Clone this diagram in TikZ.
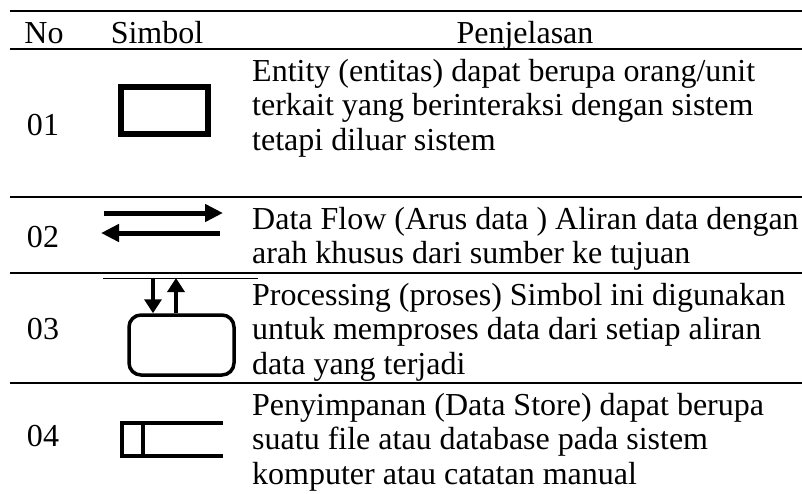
\documentclass[tikz,border=0pt]{standalone}
\usepackage{fontspec}
\setmainfont{Liberation Serif}
\usetikzlibrary{arrows.meta,positioning}

\begin{document}
\begin{tikzpicture}[x=1pt,y=-1pt,
    rule/.style={line width=2pt},
    txt/.style={inner sep=0pt, font=\fontsize{32}{34.5}\selectfont},
    desc/.style={txt, anchor=base west, align=left},
    flow/.style={line width=5pt, -{Triangle[length=18pt,width=17pt]}},
    vflow/.style={line width=4pt, -{Triangle[length=14pt,width=17pt]}}]
    \useasboundingbox (0,0) rectangle (802,493);
    % rules of the table
    \draw[rule] (10,11) -- (802,11);
    \draw[rule] (10,49) -- (802,49);
    \draw[rule] (10,197) -- (802,197);
    \draw[rule] (10,273) -- (802,273);
    \draw[rule] (10,383) -- (802,383);
    % header
    \node(hno) [txt, anchor=base] at (44,43) {No};
    \node(hsim) [txt, anchor=base] at (157,43) {Simbol};
    \node(hpen) [txt, anchor=base] at (525,43) {Penjelasan};
    % numbers
    \node(n1) [txt, anchor=base] at (43,135) {01};
    \node(n2) [txt, anchor=base] at (43,247) {02};
    \node(n3) [txt, anchor=base] at (43,339) {03};
    \node(n4) [txt, anchor=base] at (43,446) {04};
    % explanations (base = last line)
    \node(d1) [desc] at (252,150) {Entity (entitas) dapat berupa orang/unit\\terkait yang berinteraksi dengan sistem\\tetapi diluar sistem};
    \node(d2) [desc] at (252,263.5) {Data Flow (Arus data ) Aliran data dengan\\arah khusus dari sumber ke tujuan};
    \node(d3) [desc] at (252,374) {Processing (proses) Simbol ini digunakan\\untuk memproses data dari setiap aliran\\data yang terjadi};
    \node(d4) [desc] at (252,484) {Penyimpanan (Data Store) dapat berupa\\suatu file atau database pada sistem\\komputer atau catatan manual};
    % 01 entity
    \draw[line width=6pt] (121,87) rectangle (208,134);
    % 02 data flow
    \coordinate(fa) at (104,213);
    \coordinate(fb) at (223,213);
    \coordinate(fc) at (220,233);
    \coordinate(fd) at (101,233);
    \draw[flow] (fa) -- (fb);
    \draw[flow] (fc) -- (fd);
    % 03 process
    \draw[line width=1pt] (103,278) -- (258,278);
    \node(proc) [draw, line width=3.5pt, rounded corners=12pt, minimum width=105pt, minimum height=60pt, inner sep=0pt] at (181.5,345) {};
    \coordinate(pin) at (153,278);
    \coordinate(pout) at (176,278);
    \draw[vflow] (pin) -- (pin |- proc.north);
    \draw[vflow] (pout |- proc.north) -- (pout);
    % 04 data store
    \draw[line width=3.5pt] (223,423) -- (122,423) -- (122,456) -- (223,456);
    \draw[line width=3.5pt] (143,423) -- (143,456);
\end{tikzpicture}
\end{document}
